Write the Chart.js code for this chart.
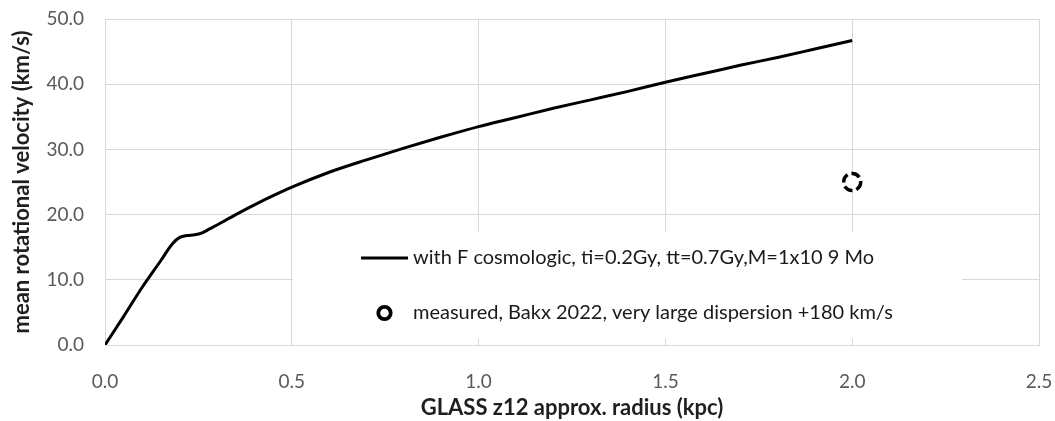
<!DOCTYPE html>
<html>
<head>
<meta charset="utf-8">
<title>Rotation curve</title>
<script src="https://cdn.jsdelivr.net/npm/chart.js@4/dist/chart.umd.min.js"></script>
<style>
  html, body { margin: 0; padding: 0; background: #fff; }
  #wrap { position: relative; width: 1055px; height: 421px; }
</style>
</head>
<body>
<div id="wrap"><canvas id="rotChart"></canvas></div>
<script>
// model curve: radius (kpc) vs mean rotational velocity (km/s)
const radiusKpc = [0, 0.05, 0.1, 0.15, 0.18, 0.2, 0.22, 0.24, 0.26, 0.28, 0.3, 0.35, 0.4, 0.5, 0.6, 0.7, 0.8, 0.9, 1.0,
  1.1, 1.2, 1.3, 1.4, 1.5, 1.6, 1.7, 1.8, 1.9, 2.0];
const velocityKms = [0, 4.4, 8.9, 13.0, 15.5, 16.5, 16.8, 16.9, 17.2, 17.8, 18.4, 20.0, 21.5, 24.2, 26.5, 28.4, 30.2, 31.9, 33.5,
  34.9, 36.3, 37.6, 38.9, 40.3, 41.6, 42.9, 44.1, 45.4, 46.7];

// observed point
const measuredRadius = [2.0];
const measuredVelocity = [25.0];

const xTickValues = [0, 0.5, 1.0, 1.5, 2.0, 2.5];
const yTickValues = [0, 10, 20, 30, 40, 50];

const seriesNames = [
  'with F cosmologic, ti=0.2Gy, tt=0.7Gy,M=1x10 9 Mo',
  'measured, Bakx 2022, very large dispersion +180 km/s',
];

const FONT = 'Lato, "Open Sans", sans-serif';
const GRID = '#d9d9d9';

// dashed outline for the measured marker
const dashedMarker = {
  id: 'dashedMarker',
  beforeDatasetDraw(chart, args) {
    if (args.index !== 1) return;
    chart.ctx.save();
    chart.ctx.setLineDash([9, 4]);
  },
  afterDatasetDraw(chart, args) {
    if (args.index !== 1) return;
    chart.ctx.restore();
  },
};

// legend box sitting inside the plot, covering the grid behind it
const insetLegend = {
  id: 'insetLegend',
  afterDraw(chart, args, opts) {
    const ctx = chart.ctx;
    const b = opts.box;
    ctx.save();
    ctx.fillStyle = '#fff';
    ctx.fillRect(b.left, b.top, b.right - b.left, b.bottom - b.top);

    ctx.font = opts.font;
    ctx.fillStyle = opts.color;
    ctx.textBaseline = 'middle';

    const ds = chart.data.datasets;
    // row 1: line sample
    ctx.strokeStyle = ds[0].borderColor;
    ctx.lineWidth = ds[0].borderWidth;
    ctx.beginPath();
    ctx.moveTo(opts.sampleLeft, opts.rows[0]);
    ctx.lineTo(opts.sampleRight, opts.rows[0]);
    ctx.stroke();
    ctx.fillText(ds[0].label, opts.textX, opts.rows[0]);

    // row 2: solid ring
    const cx = (opts.sampleLeft + opts.sampleRight) / 2;
    ctx.lineWidth = 3.8;
    ctx.strokeStyle = ds[1].borderColor;
    ctx.beginPath();
    ctx.arc(cx, opts.rows[1], 6.2, 0, Math.PI * 2);
    ctx.stroke();
    ctx.fillText(ds[1].label, opts.textX, opts.rows[1]);
    ctx.restore();
  },
};

new Chart(document.getElementById('rotChart'), {
  type: 'scatter',
  data: {
    datasets: [
      {
        label: seriesNames[0],
        data: radiusKpc.map((r, i) => ({ x: r, y: velocityKms[i] })),
        showLine: true,
        borderColor: '#000',
        backgroundColor: '#000',
        borderWidth: 3,
        pointRadius: 0,
        cubicInterpolationMode: 'monotone',
      },
      {
        label: seriesNames[1],
        data: measuredRadius.map((r, i) => ({ x: r, y: measuredVelocity[i] })),
        showLine: false,
        borderColor: '#000',
        backgroundColor: '#fff',
        pointRadius: 8.5,
        borderWidth: 3.5,
      },
    ],
  },
  options: {
    responsive: true,
    maintainAspectRatio: false,
    animation: false,
    layout: { padding: { top: 19, right: 16, left: 0, bottom: 0 } },
    plugins: {
      legend: { display: false },
      tooltip: { enabled: false },
      insetLegend: {
        box: { left: 293, right: 962, top: 232, bottom: 338 },
        rows: [258, 313],
        sampleLeft: 361,
        sampleRight: 408,
        textX: 413,
        font: `20px ${FONT}`,
        color: '#1a1a1a',
      },
    },
    scales: {
      x: {
        type: 'linear',
        min: 0,
        max: 2.5,
        afterBuildTicks: (s) => { s.ticks = xTickValues.map((v) => ({ value: v })); },
        afterFit: (s) => { s.height = 76; s.paddingLeft = 0; s.paddingRight = 0; },
        ticks: {
          callback: (v) => Number(v).toFixed(1),
          color: '#595959',
          font: { family: FONT, size: 19 },
          padding: 25,
          maxRotation: 0,
        },
        grid: { color: GRID, lineWidth: 1, drawTicks: false },
        border: { color: GRID },
        title: {
          display: true,
          text: 'GLASS z12 approx. radius (kpc)',
          color: '#1f1f1f',
          font: { family: FONT, size: 22, weight: 'bold' },
          padding: { top: 0, bottom: 0 },
        },
      },
      y: {
        min: 0,
        max: 50,
        afterBuildTicks: (s) => { s.ticks = yTickValues.map((v) => ({ value: v })); },
        afterFit: (s) => { s.width = 105; s.paddingTop = 0; s.paddingBottom = 0; },
        ticks: {
          callback: (v) => Number(v).toFixed(1),
          color: '#595959',
          font: { family: FONT, size: 19 },
          padding: 21,
        },
        grid: { color: GRID, lineWidth: 1, drawTicks: false },
        border: { color: GRID },
        title: {
          display: true,
          text: 'mean rotational velocity (km/s)',
          color: '#1f1f1f',
          font: { family: FONT, size: 22, weight: 'bold' },
          padding: { top: 9, bottom: 0 },
        },
      },
    },
  },
  plugins: [dashedMarker, insetLegend],
});
</script>
</body>
</html>
